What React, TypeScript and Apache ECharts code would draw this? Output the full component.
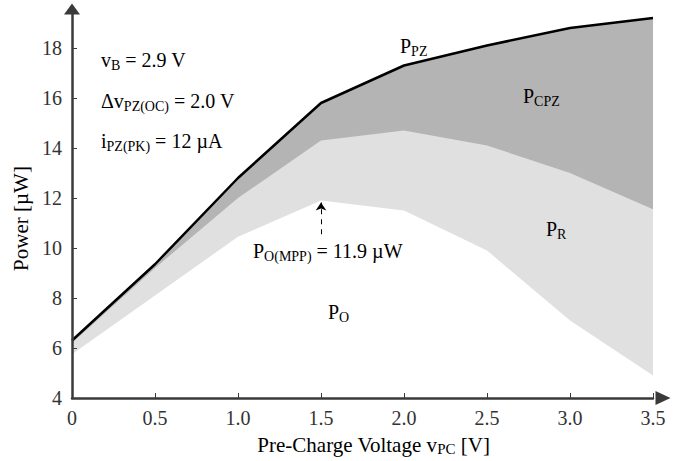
import React, { useEffect, useRef } from "react";
import * as echarts from "echarts";

const voltages = [0, 0.5, 1.0, 1.5, 2.0, 2.5, 3.0, 3.5];
const pPZ = [6.3, 9.35, 12.8, 15.8, 17.3, 18.1, 18.8, 19.2];
const pRTop = [6.2, 9.2, 12.0, 14.3, 14.7, 14.1, 13.0, 11.55];
const pO = [5.75, 8.1, 10.45, 11.9, 11.5, 9.9, 7.1, 4.9];
const yTicks = [4, 6, 8, 10, 12, 14, 16, 18];
const mppArrow = { x: 1.5, from: 10.55, to: 11.82 };

const FONT = "Liberation Serif";

const rich = {
  m: { fontSize: 20, fontFamily: FONT, verticalAlign: "top", color: "#000" },
  s: { fontSize: 14, fontFamily: FONT, verticalAlign: "top", color: "#000", padding: [8, 0, 0, 0] },
};

function txt(x: number, y: number, text: string) {
  return {
    type: "text",
    x,
    y,
    silent: true,
    z: 100,
    style: { text, rich, verticalAlign: "top", align: "left", fill: "#000", fontSize: 20, fontFamily: FONT },
  };
}

export default function App() {
  const ref = useRef<HTMLDivElement>(null);
  useEffect(() => {
    if (!ref.current) return;
    const chart = echarts.init(ref.current, undefined, { renderer: "svg" });
    const pair = (arr: number[]) => voltages.map((v, i) => [v, arr[i]]);
    const axisColor = "#3a3a3a";
    const area = (name: string, arr: number[], color: string, z: number) => ({
      type: "line",
      name,
      data: pair(arr),
      symbol: "none",
      lineStyle: { width: 0, opacity: 0 },
      areaStyle: { color, opacity: 1, origin: "start" },
      silent: true,
      z,
    });
    chart.setOption({
      animation: false,
      grid: { left: 72, right: 40, top: 13, bottom: 61 },
      xAxis: {
        type: "value",
        min: 0,
        max: 3.5,
        interval: 0.5,
        z: 10,
        name: "Pre-Charge Voltage v{s|PC} [V]",
        nameLocation: "middle",
        nameGap: 36,
        nameTextStyle: {
          fontSize: 21,
          fontFamily: FONT,
          color: "#000",
          padding: [0, 0, 0, 22],
          rich: {
            s: { fontSize: 15, fontFamily: FONT, color: "#000", verticalAlign: "top", padding: [7, 0, 0, 0] },
          },
        },
        splitLine: { show: false },
        axisLine: {
          lineStyle: { color: axisColor, width: 2.5 },
          symbol: ["none", "triangle"],
          symbolSize: [14, 15],
          symbolOffset: [0, 10],
        },
        axisTick: { inside: true, length: 5, lineStyle: { color: axisColor, width: 1 } },
        axisLabel: {
          margin: 10,
          fontSize: 20,
          fontFamily: FONT,
          color: "#333",
          formatter: (v: number) => (v === 0 ? "0" : v.toFixed(1)),
        },
      },
      yAxis: {
        type: "value",
        min: yTicks[0],
        max: 19.4,
        interval: 2,
        z: 10,
        name: "Power [µW]",
        nameLocation: "middle",
        nameGap: 40,
        nameTextStyle: { fontSize: 21, fontFamily: FONT, color: "#000", padding: [0, 26, 0, 0] },
        splitLine: { show: false },
        axisLine: {
          show: true,
          lineStyle: { color: axisColor, width: 2.5 },
          symbol: ["none", "triangle"],
          symbolSize: [16, 11],
          symbolOffset: [0, 4],
        },
        axisTick: { show: true, inside: true, length: 5, lineStyle: { color: axisColor, width: 1 } },
        axisLabel: {
          margin: 10,
          fontSize: 20,
          fontFamily: FONT,
          color: "#333",
          showMaxLabel: false,
          formatter: (v: number) => (yTicks.includes(v) ? String(v) : ""),
        },
      },
      series: [
        area("PCPZ", pPZ, "#b4b4b4", 2),
        area("PR", pRTop, "#e0e0e0", 3),
        area("PO", pO, "#ffffff", 4),
        {
          type: "line",
          name: "PPZ",
          data: pair(pPZ),
          symbol: "none",
          lineStyle: { color: "#000", width: 2.5 },
          silent: true,
          z: 5,
          markLine: {
            silent: true,
            symbol: ["none", "arrow"],
            symbolSize: 8,
            label: { show: false },
            lineStyle: { color: "#000", type: [5, 5], width: 1 },
            data: [
              [
                { coord: [mppArrow.x, mppArrow.from] },
                { coord: [mppArrow.x, mppArrow.to] },
              ],
            ],
          },
        },
      ],
      graphic: [
        txt(101, 50, "{m|v}{s|B}{m| = 2.9 V}"),
        txt(101, 91, "{m|Δv}{s|PZ(OC)}{m| = 2.0 V}"),
        txt(101, 131, "{m|i}{s|PZ(PK)}{m| = 12 µA}"),
        txt(400, 36, "{m|P}{s|PZ}"),
        txt(523, 86, "{m|P}{s|CPZ}"),
        txt(546, 219, "{m|P}{s|R}"),
        txt(253, 241, "{m|P}{s|O(MPP)}{m| = 11.9 µW}"),
        txt(328, 302, "{m|P}{s|O}"),
      ],
    });
    return () => chart.dispose();
  }, []);
  return (
    <div
      ref={ref}
      style={{ position: "fixed", left: 0, top: 0, width: 693, height: 461, background: "#fff" }}
    />
  );
}
